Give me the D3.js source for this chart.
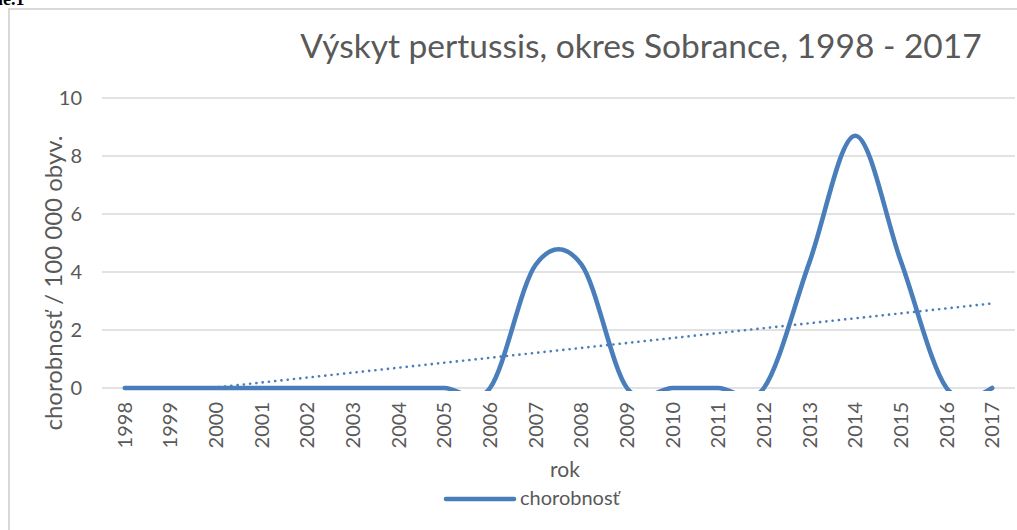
<!DOCTYPE html>
<html>
<head>
<meta charset="utf-8">
<script src="https://cdn.jsdelivr.net/npm/d3@7"></script>
<style>
  html, body { margin: 0; padding: 0; background: #fff; overflow: hidden; }
  svg { display: block; font-family: Lato, "Open Sans", sans-serif; }
</style>
</head>
<body>
<svg id="chart" width="1017" height="530"></svg>
<script>
// Pertussis morbidity per 100 000 inhabitants, Sobrance district
const years = ["1998","1999","2000","2001","2002","2003","2004","2005","2006","2007",
               "2008","2009","2010","2011","2012","2013","2014","2015","2016","2017"];
const morbidity = [0,0,0,0,0,0,0,0,0,4.25,
                   4.26,0,0,0,0,4.35,8.7,4.37,0,0];
const yTicks = [0,2,4,6,8,10];

const titleText = "Výskyt pertussis, okres Sobrance, 1998 - 2017";
const yTitleText = "chorobnosť / 100 000 obyv.";
const xTitleText = "rok";
const seriesName = "chorobnosť";

const W = 1017, H = 530;
const plot = { left: 102, right: 1015, top: 98, bottom: 388 };
const textColor = "#595959";
const gridColor = "#d9d9d9";
const lineColor = "#4a7ebb";

const svg = d3.select("#chart");

// caption fragment above the chart frame
svg.append("text")
  .attr("x", -2).attr("y", 5)
  .attr("font-family", "'Liberation Serif', serif")
  .attr("font-weight", "bold").attr("font-size", 18)
  .attr("fill", "#000")
  .text("ie.1");

// chart frame
svg.append("rect")
  .attr("x", 9).attr("y", 9)
  .attr("width", W + 20).attr("height", H + 20)
  .attr("fill", "#fff")
  .attr("stroke", gridColor).attr("stroke-width", 2);

const x = d3.scaleBand().domain(years).range([plot.left, plot.right]);
const y = d3.scaleLinear().domain([0, 10]).range([plot.bottom, plot.top]);

// gridlines
svg.append("g")
  .selectAll("line")
  .data(yTicks)
  .join("line")
  .attr("x1", plot.left).attr("x2", plot.right)
  .attr("y1", d => y(d)).attr("y2", d => y(d))
  .attr("stroke", gridColor).attr("stroke-width", 1.3);

// y axis labels
const yAxis = svg.append("g")
  .attr("transform", `translate(${plot.left - 20},0)`)
  .call(d3.axisLeft(y).tickValues(yTicks).tickSize(0).tickPadding(0));
yAxis.select(".domain").remove();
yAxis.selectAll("text")
  .attr("font-family", "Lato, sans-serif")
  .attr("font-size", 20).attr("fill", textColor);

// x axis labels (rotated)
const xAxis = svg.append("g")
  .attr("transform", `translate(0,${plot.bottom + 14})`)
  .call(d3.axisBottom(x).tickSize(0).tickPadding(0));
xAxis.select(".domain").remove();
xAxis.selectAll("text")
  .attr("font-family", "Lato, sans-serif")
  .attr("font-size", 20).attr("fill", textColor)
  .attr("transform", "rotate(-90)")
  .attr("text-anchor", "end")
  .attr("dx", 0).attr("dy", "0.35em")
  .attr("y", 0).attr("x", 0);

// title
svg.append("text")
  .attr("x", 641).attr("y", 58)
  .attr("text-anchor", "middle")
  .attr("font-size", 33.5).attr("fill", textColor)
  .text(titleText);

// axis titles
svg.append("text")
  .attr("transform", `translate(${plot.left - 40},${283}) rotate(-90)`)
  .attr("text-anchor", "middle")
  .attr("font-size", 24).attr("fill", textColor)
  .text(yTitleText);

svg.append("text")
  .attr("x", 565).attr("y", 477)
  .attr("text-anchor", "middle")
  .attr("font-size", 21).attr("fill", textColor)
  .text(xTitleText);

// series clipped to the plot area
svg.append("clipPath").attr("id", "plotClip")
  .append("rect")
  .attr("x", plot.left).attr("y", plot.top - 20)
  .attr("width", plot.right - plot.left)
  .attr("height", plot.bottom - plot.top + 23);

const pts = years.map((yr, i) => ({ yr, v: morbidity[i] }));
const cx = d => x(d.yr) + x.bandwidth() / 2;

// linear trend (least squares over the series)
const n = pts.length;
const xs = d3.range(1, n + 1);
const mx = d3.mean(xs), my = d3.mean(morbidity);
const slope = d3.sum(xs, (xi, i) => (xi - mx) * (morbidity[i] - my)) /
              d3.sum(xs, xi => (xi - mx) * (xi - mx));
const icpt = my - slope * mx;
const trend = [{ yr: years[0], v: icpt + slope * 1 }, { yr: years[n - 1], v: icpt + slope * n }];

const g = svg.append("g").attr("clip-path", "url(#plotClip)");

g.append("path")
  .datum(pts)
  .attr("fill", "none")
  .attr("stroke", lineColor)
  .attr("stroke-width", 4.6)
  .attr("stroke-linecap", "round")
  .attr("d", d3.line().x(cx).y(d => y(d.v)).curve(d3.curveCardinal.tension(0)));

svg.append("clipPath").attr("id", "trendClip")
  .append("rect")
  .attr("x", plot.left).attr("y", plot.top - 20)
  .attr("width", plot.right - plot.left)
  .attr("height", plot.bottom - plot.top + 20);

svg.append("path")
  .datum(trend)
  .attr("clip-path", "url(#trendClip)")
  .attr("fill", "none")
  .attr("stroke", lineColor)
  .attr("stroke-width", 2.6)
  .attr("stroke-linecap", "round")
  .attr("stroke-dasharray", "0.1 6.2")
  .attr("d", d3.line().x(cx).y(d => y(d.v)));

// legend
svg.append("line")
  .attr("x1", 446).attr("x2", 514)
  .attr("y1", 499).attr("y2", 499)
  .attr("stroke", lineColor).attr("stroke-width", 4.6)
  .attr("stroke-linecap", "round");
svg.append("text")
  .attr("x", 520).attr("y", 505)
  .attr("font-size", 20).attr("fill", textColor)
  .text(seriesName);
</script>
</body>
</html>
